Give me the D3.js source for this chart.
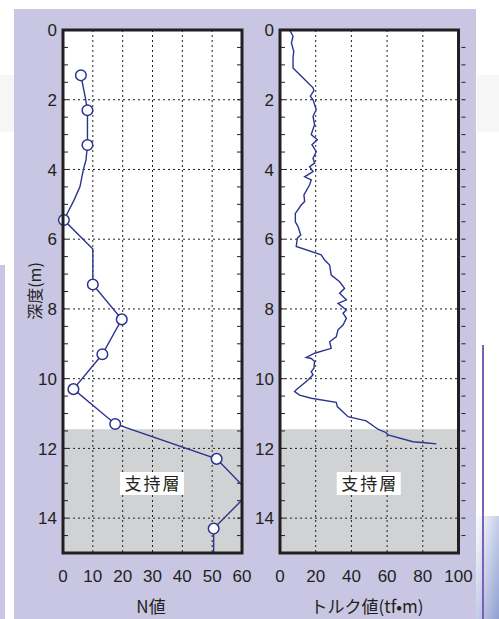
<!DOCTYPE html>
<html>
<head>
<meta charset="utf-8">
<script src="https://cdn.jsdelivr.net/npm/d3@7"></script>
<style>
  body { margin: 0; background: #fff; }
  svg text { font-family: "Liberation Sans", Arial, sans-serif; fill: #231f20; }
  .jp { font-family: "Noto Sans CJK JP", sans-serif !important; }
</style>
</head>
<body>
<svg id="chart"></svg>
<script>
// tick values
const depthTicks = [0, 2, 4, 6, 8, 10, 12, 14];
const nTicks = [0, 10, 20, 30, 40, 50, 60];
const torqueTicks = [0, 20, 40, 60, 80, 100];
const bearingTop = 11.45; // 支持層 starts here (m)

// N value markers (depth m, N)
const nMarkDepth = [1.3, 2.3, 3.3, 5.45, 7.3, 8.3, 9.3, 10.3, 11.3, 12.3, 14.3];
const nMarkValue = [6, 8.2, 8.2, 0.3, 10, 19.7, 13.2, 3.5, 17.5, 51.5, 50.5];

// N value line incl. bends between markers
const nLineDepth = [1.3, 1.9, 2.3, 3.3, 3.73, 4.01, 4.49, 4.88, 5.45, 6.28, 7.3, 8.3, 9.3, 10.3, 11.3, 12.3, 13.05, 13.48, 14.3, 15];
const nLineValue = [6, 7.4, 8.2, 8.2, 7.7, 6.8, 5.7, 3.7, 0.3, 10, 10, 19.7, 13.2, 3.5, 17.5, 51.5, 60, 60, 50.5, 50.5];

// torque log (depth m, tf·m)
const torqueDepth = [0, 0.18, 0.37, 0.61, 0.8, 1.09, 1.23, 1.42, 1.66, 1.74, 1.9, 2.0, 2.28, 2.48, 2.71, 3.0, 3.15, 3.29,
  3.49, 3.68, 3.82, 3.92, 4.06, 4.21, 4.3, 4.44, 4.73, 4.92, 5.02, 5.26, 5.5, 5.64, 5.88, 5.97, 6.21, 6.45, 6.6, 6.74,
  7.03, 7.22, 7.41, 7.55, 7.74, 7.84, 8.03, 8.12, 8.27, 8.46, 8.6, 8.8, 8.94, 9.13, 9.27, 9.39, 9.42, 9.51, 9.7, 9.8,
  9.89, 10.04, 10.32, 10.37, 10.47, 10.56, 10.68, 10.8, 11.09, 11.21, 11.45, 11.55, 11.61, 11.81, 11.84, 11.87];
const torqueValue = [5.4, 7.3, 6.4, 7.7, 7.3, 7.3, 10.1, 13.8, 18.5, 19, 17, 18.5, 20.3, 18.5, 19.4, 17.5, 20.9, 17.9,
  20.3, 18.5, 19.4, 16.6, 18.5, 13.8, 17.5, 16.6, 13.4, 13.8, 11.9, 8.6, 8.6, 10.1, 11.6, 9.7, 9.1, 23.1, 25, 27.8,
  28.7, 33.4, 36.2, 33.4, 37.2, 32.5, 37.2, 35.3, 37.2, 35.3, 32.5, 31.5, 27.8, 28.7, 19.4, 14.7, 17.5, 19.4, 19, 17.5,
  18.5, 15.7, 9.1, 8.2, 11, 17.5, 31.5, 32.1, 38.1, 48.3, 54.9, 59.5, 60.5, 74.5, 81.1, 87.6];

const lineColor = '#2c3490';
const W = 499, H = 619;
const svg = d3.select('#chart').attr('width', W).attr('height', H);

// page decorations
svg.append('rect').attr('x', 0).attr('y', 0).attr('width', W).attr('height', H).attr('fill', '#fff');
svg.append('rect').attr('x', 0).attr('y', 75).attr('width', 14).attr('height', 57).attr('fill', '#f6f6f7');
svg.append('rect').attr('x', 0).attr('y', 265).attr('width', 5).attr('height', H - 265).attr('fill', '#c8c6e2');
svg.append('rect').attr('x', 477).attr('y', 75).attr('width', 22).attr('height', 57).attr('fill', '#f6f6f7');
const grad = svg.append('defs').append('linearGradient').attr('id', 'cornerGrad')
  .attr('x1', '0%').attr('y1', '0%').attr('x2', '100%').attr('y2', '100%');
grad.append('stop').attr('offset', '0%').attr('stop-color', '#ffffff');
grad.append('stop').attr('offset', '100%').attr('stop-color', '#8f9fd0');
svg.append('rect').attr('x', 476).attr('y', 516).attr('width', 23).attr('height', H - 516).attr('fill', 'url(#cornerGrad)');
svg.append('rect').attr('x', 482).attr('y', 345).attr('width', 2).attr('height', H - 345).attr('fill', '#7a60b8');
svg.append('rect').attr('x', 14).attr('y', 9).attr('width', 462).attr('height', H - 9).attr('fill', '#c8c6e2');

const plotTop = 30, plotBottom = 553;
const y = d3.scaleLinear().domain([0, 15]).range([plotTop, plotBottom]);

function panel(x0, x1, xMax, xTicks, rightOutside) {
  const x = d3.scaleLinear().domain([0, xMax]).range([x0, x1]);
  const g = svg.append('g');
  g.append('rect').attr('x', x0).attr('y', plotTop).attr('width', x1 - x0).attr('height', plotBottom - plotTop).attr('fill', '#fff');
  g.append('rect').attr('x', x0).attr('y', y(bearingTop)).attr('width', x1 - x0)
    .attr('height', plotBottom - y(bearingTop)).attr('fill', '#d1d2d4');

  // dotted grid
  g.selectAll('.vg').data(xTicks.slice(1, -1)).enter().append('line')
    .attr('x1', d => x(d)).attr('x2', d => x(d)).attr('y1', plotTop).attr('y2', plotBottom)
    .attr('stroke', '#231f20').attr('stroke-width', 1).attr('stroke-dasharray', '2,3');
  g.selectAll('.hg').data(depthTicks.slice(1)).enter().append('line')
    .attr('x1', x0).attr('x2', x1).attr('y1', d => y(d)).attr('y2', d => y(d))
    .attr('stroke', '#231f20').attr('stroke-width', 1).attr('stroke-dasharray', '2,3');

  // minor ticks every 0.5 m
  const minor = d3.range(0.5, 15, 0.5);
  g.selectAll('.tl').data(minor).enter().append('line')
    .attr('x1', x0).attr('x2', x0 + 5).attr('y1', d => y(d)).attr('y2', d => y(d))
    .attr('stroke', '#231f20').attr('stroke-width', 1);
  g.selectAll('.tr').data(minor).enter().append('line')
    .attr('x1', rightOutside ? x1 + 3 : x1 - 5).attr('x2', rightOutside ? x1 + 7 : x1)
    .attr('y1', d => y(d)).attr('y2', d => y(d))
    .attr('stroke', '#231f20').attr('stroke-width', 1);

  // depth labels
  g.selectAll('.yl').data(depthTicks).enter().append('text')
    .attr('x', x0 - 6).attr('y', d => y(d)).attr('dy', '0.36em')
    .attr('text-anchor', 'end').attr('font-size', 17).text(d => d);

  // bottom labels
  g.selectAll('.xl').data(xTicks).enter().append('text')
    .attr('x', d => x(d)).attr('y', 582)
    .attr('text-anchor', 'middle').attr('font-size', 17).text(d => d);

  // 支持層 label
  const cx = (x0 + x1) / 2 - 0.5;
  g.append('rect').attr('x', cx - 32).attr('y', 472).attr('width', 64).attr('height', 23).attr('fill', '#fff');
  g.append('text').attr('class', 'jp').attr('x', cx + 1).attr('y', 490)
    .attr('text-anchor', 'middle').attr('font-size', 17).attr('letter-spacing', 2).text('支持層');
  return { g, x };
}

// left panel: N値
const left = panel(63, 242, 60, nTicks, false);
const nLine = d3.line().x(d => left.x(d[0])).y(d => y(d[1]));
left.g.append('path').datum(nLineValue.map((v, i) => [v, nLineDepth[i]]))
  .attr('d', nLine).attr('fill', 'none').attr('stroke', lineColor).attr('stroke-width', 1.4);
left.g.selectAll('circle').data(nMarkValue.map((v, i) => [v, nMarkDepth[i]])).enter().append('circle')
  .attr('cx', d => left.x(d[0])).attr('cy', d => y(d[1])).attr('r', 5.3)
  .attr('fill', '#fff').attr('stroke', lineColor).attr('stroke-width', 1.5);

// right panel: トルク値
const right = panel(280, 458.5, 100, torqueTicks, true);
const tLine = d3.line().x(d => right.x(d[0])).y(d => y(d[1]));
right.g.append('path').datum(torqueValue.map((v, i) => [v, torqueDepth[i]]))
  .attr('d', tLine).attr('fill', 'none').attr('stroke', lineColor).attr('stroke-width', 1.4);

// frames on top
[[63, 242], [280, 458.5]].forEach(([a, b]) => {
  svg.append('rect').attr('x', a).attr('y', plotTop).attr('width', b - a).attr('height', plotBottom - plotTop)
    .attr('fill', 'none').attr('stroke', '#231f20').attr('stroke-width', 3);
});

// axis titles
svg.append('text').attr('class', 'jp').attr('x', 151).attr('y', 613)
  .attr('text-anchor', 'middle').attr('font-size', 17).text('N値');
svg.append('text').attr('class', 'jp').attr('x', 367).attr('y', 613)
  .attr('text-anchor', 'middle').attr('font-size', 17).text('トルク値(tf•m)');
svg.append('text').attr('class', 'jp')
  .attr('transform', 'translate(41,291) rotate(-90)')
  .attr('text-anchor', 'middle').attr('font-size', 16).text('深度(m)');
</script>
</body>
</html>
